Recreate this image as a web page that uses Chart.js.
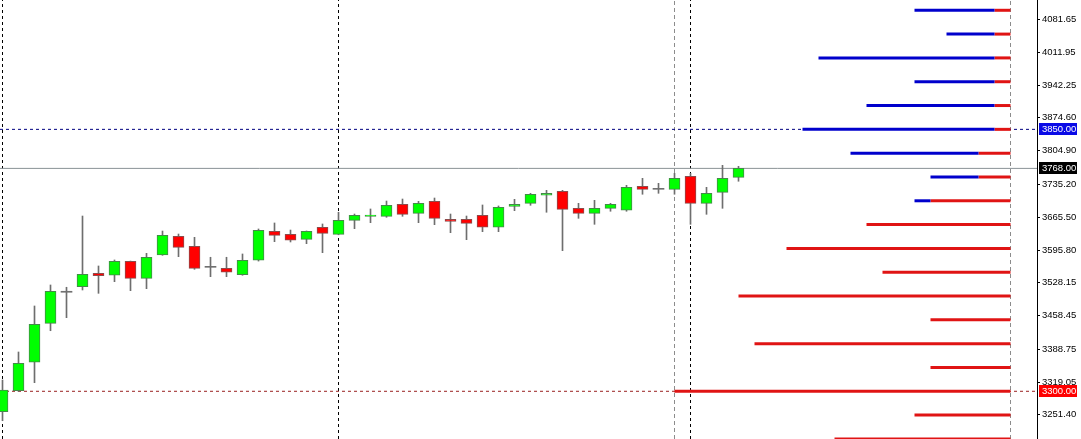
<!DOCTYPE html>
<html><head><meta charset="utf-8">
<script src="https://cdn.jsdelivr.net/npm/chart.js@4"></script>
<style>html,body{margin:0;padding:0;background:#fff;overflow:hidden}</style>
</head><body>
<canvas id="c" width="1081" height="439"></canvas>
<script>
// ---- data ----
const opens  = [3257.1,3301.2,3360.9,3442.7,3507.9,3519.6,3547.8,3543.6,3572.9,3537.2,3586.2,3625.4,3604.4,3560.3,3558.2,3544.8,3575.1,3635.9,3629.6,3619.1,3644.4,3629.6,3659.0,3667.4,3667.4,3692.6,3673.7,3698.9,3661.1,3661.1,3669.5,3644.4,3688.4,3694.7,3711.6,3719.9,3684.2,3673.7,3684.2,3680.1,3730.4,3724.1,3724.1,3751.4,3694.7,3717.8,3749.3];
const closes = [3302.7,3358.8,3440.6,3510.0,3507.9,3545.7,3542.7,3572.9,3537.2,3581.4,3627.5,3602.3,3558.2,3560.3,3549.9,3575.1,3638.0,3627.5,3617.1,3635.9,3631.7,3659.0,3669.5,3670.1,3690.5,3671.6,3694.7,3663.2,3656.9,3652.7,3644.4,3686.3,3692.6,3713.7,3715.7,3682.1,3673.7,3684.2,3692.6,3728.3,3724.1,3724.1,3747.2,3694.7,3715.7,3747.2,3768.0];
const highs  = [3323.7,3382.5,3479.1,3523.2,3518.4,3668.0,3563.1,3575.7,3573.4,3589.7,3636.5,3630.2,3623.3,3581.4,3581.4,3588.3,3640.8,3653.4,3638.6,3636.6,3651.3,3675.9,3672.2,3682.8,3699.5,3703.7,3698.9,3705.8,3672.2,3668.0,3691.2,3689.1,3703.1,3715.7,3722.0,3722.0,3694.7,3701.0,3694.7,3732.5,3747.2,3736.7,3757.7,3757.7,3728.3,3774.5,3772.4];
const lows   = [3238.2,3299.6,3318.1,3427.2,3454.5,3512.7,3505.7,3530.1,3511.2,3515.4,3585.5,3582.6,3556.1,3540.7,3540.7,3543.6,3573.4,3614.1,3613.5,3609.9,3591.0,3628.6,3641.4,3654.0,3665.3,3667.4,3654.0,3649.8,3633.0,3618.3,3635.1,3635.1,3679.2,3690.5,3675.9,3595.2,3663.2,3650.6,3678.0,3678.0,3713.7,3715.7,3713.7,3650.6,3671.6,3684.2,3741.0];

const levelPrices = [4100,4050,4000,3950,3900,3850,3800,3750,3700,3650,3600,3550,3500,3450,3400,3350,3300,3250,3200];
const levelStart  = [57,59,51,57,54,50,53,58,57,54,49,55,46,58,47,58,42,57,52];
const levelSplit  = [62,62,62,62,62,62,61,61,58,54,49,55,46,58,47,58,42,57,52];
const levelEnd = 63;

const blackSeparators = [0,21,43];
const greySeparators = [42,63];
const currentPrice = 3768;
const upperPrice = 3850;
const lowerPrice = 3300;
const yTicks = [4081.65,4011.95,3942.25,3874.60,3804.90,3735.20,3665.50,3595.80,3528.15,3458.45,3388.75,3319.05,3251.40];

const Y_MIN = 3199.8, Y_MAX = 4121.6;
const X_MIN = -0.15625, X_MAX = 64.656;

// ---- datasets ----
const idx = opens.map((_, i) => i);
const bull = '#00ff00', bear = '#ff0000', doji = '#707070';
const bodyFill = idx.map(i => closes[i] > opens[i] ? bull : closes[i] < opens[i] ? bear : doji);
const bodyBorder = idx.map(i => closes[i] > opens[i] ? '#45894a' : closes[i] < opens[i] ? '#8c4c4c' : doji);
const bodyBW = idx.map(i => closes[i] === opens[i] ? 0 : 1);

const datasets = [];
datasets.push({
  type: 'bar', order: 1, grouped: false, barThickness: 11, minBarLength: 1,
  data: idx.map(i => ({x: i, y: [Math.min(opens[i], closes[i]), Math.max(opens[i], closes[i])]})),
  backgroundColor: bodyFill, borderColor: bodyBorder, borderWidth: bodyBW, borderSkipped: false
});
datasets.push({
  type: 'bar', order: 2, grouped: false, barThickness: 1,
  data: idx.map(i => ({x: i, y: [lows[i], highs[i]]})),
  backgroundColor: '#6e6e6e', borderWidth: 0
});
levelPrices.forEach((p, k) => {
  if (levelSplit[k] > levelStart[k]) {
    datasets.push({type: 'line', order: 3, data: [{x: levelStart[k], y: p}, {x: levelSplit[k], y: p}],
      borderColor: '#0000cc', borderWidth: 3, pointRadius: 0, borderCapStyle: 'butt'});
  }
  datasets.push({type: 'line', order: 3, data: [{x: levelSplit[k], y: p}, {x: levelEnd, y: p}],
    borderColor: '#e01414', borderWidth: 3, pointRadius: 0, borderCapStyle: 'butt'});
});
datasets.push({type: 'line', order: 5, data: [{x: X_MIN, y: currentPrice}, {x: X_MAX, y: currentPrice}],
  borderColor: '#8a9296', borderWidth: 1, pointRadius: 0});
datasets.push({type: 'line', order: 5, data: [{x: X_MIN, y: upperPrice}, {x: X_MAX, y: upperPrice}],
  borderColor: '#000080', borderWidth: 1, borderDash: [3, 3], pointRadius: 0});
datasets.push({type: 'line', order: 5, data: [{x: X_MIN, y: lowerPrice}, {x: X_MAX, y: lowerPrice}],
  borderColor: '#9a2020', borderWidth: 1, borderDash: [3, 3], pointRadius: 0});
blackSeparators.forEach(s => datasets.push({type: 'line', order: 6,
  data: [{x: s, y: Y_MIN}, {x: s, y: Y_MAX}], borderColor: '#000', borderWidth: 1, borderDash: [3, 3], pointRadius: 0}));
greySeparators.forEach(s => datasets.push({type: 'line', order: 6,
  data: [{x: s, y: Y_MIN}, {x: s, y: Y_MAX}], borderColor: '#8c8c8c', borderWidth: 1, borderDash: [4, 3], pointRadius: 0}));

const tags = [
  {price: upperPrice, bg: '#0a0ae6'},
  {price: currentPrice, bg: '#000000'},
  {price: lowerPrice, bg: '#ff0000'}
];
const FONT = '"Liberation Sans", Arial, sans-serif';
const tagPlugin = {
  id: 'tags',
  afterDraw(chart) {
    const y = chart.scales.y, ctx = chart.ctx, x0 = chart.chartArea.right + 2;
    ctx.save();
    ctx.font = '9.5px ' + FONT;
    ctx.textBaseline = 'middle';
    tags.forEach(t => {
      const py = Math.round(y.getPixelForValue(t.price));
      ctx.fillStyle = t.bg;
      ctx.fillRect(x0, py - 6, 38, 12);
      ctx.fillStyle = '#fff';
      ctx.fillText(t.price.toFixed(2), x0 + 3, py + 0.5);
    });
    ctx.restore();
  }
};

new Chart(document.getElementById('c'), {
  data: {datasets},
  options: {
    responsive: false, animation: false, devicePixelRatio: 1,
    layout: {padding: 0},
    plugins: {legend: {display: false}, tooltip: {enabled: false}},
    scales: {
      x: {type: 'linear', display: false, min: X_MIN, max: X_MAX, offset: false},
      y: {
        position: 'right', min: Y_MIN, max: Y_MAX,
        afterBuildTicks: s => { s.ticks = yTicks.map(v => ({value: v})); },
        afterFit: s => { s.width = 44; s.paddingTop = 0; s.paddingBottom = 0; },
        ticks: {color: '#000', padding: 2, font: {family: FONT, size: 9.5},
          callback: v => Number(v).toFixed(2), autoSkip: false},
        grid: {drawOnChartArea: false, drawTicks: true, tickLength: 3, color: '#000'},
        border: {display: true, color: '#000', width: 1}
      }
    }
  },
  plugins: [tagPlugin]
});
</script>
</body></html>
